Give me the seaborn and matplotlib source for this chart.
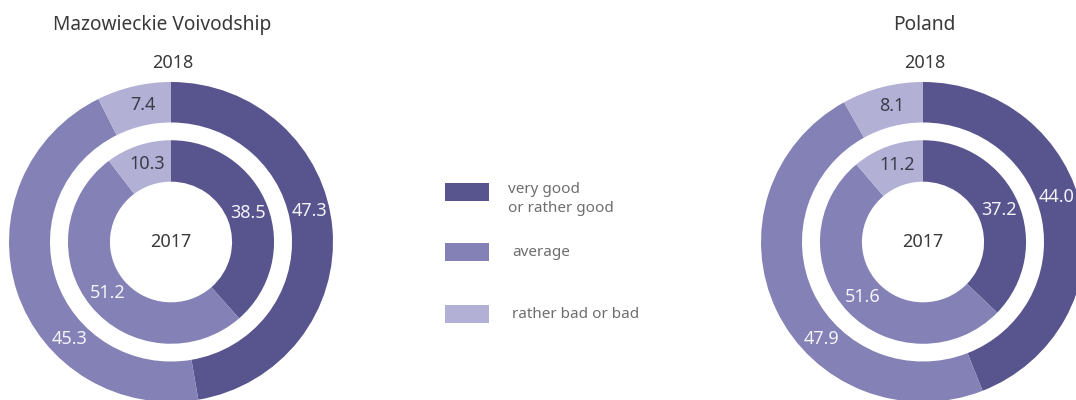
import numpy as np
import matplotlib
matplotlib.use("Agg")
import matplotlib.pyplot as plt
from matplotlib.patches import Rectangle
import seaborn as sns

# ---------------- data ----------------
categories = ["very good\nor rather good", "average", "rather bad or bad"]
regions = ["Mazowieckie Voivodship", "Poland"]
maz_2018 = [47.3, 45.3, 7.4]
maz_2017 = [38.5, 51.2, 10.3]
pol_2018 = [44.0, 47.9, 8.1]
pol_2017 = [37.2, 51.6, 11.2]
outer_year = "2018"
inner_year = "2017"

# ---------------- style ----------------
sns.set_theme(style="white")
plt.rcParams['font.family'] = ['Noto Sans', 'DejaVu Sans']
colors = sns.color_palette(["#57548e", "#8381b5", "#b2b1d5"])
label_colors = ["#f4f4fa", "#f4f4fa", "#3b3b4a"]

W, H = 1076, 400
fig = plt.figure(figsize=(W / 100, H / 100), dpi=100)
fig.patch.set_facecolor("white")

RX, RY = 162.0, 160.0   # pixel size of unit radius
OUT_W = 0.253
IN_R = 0.636
IN_W = 0.259


def px_axes(cx, cy_top, ext=1.25):
    left = (cx - ext * RX) / W
    bottom = (H - cy_top - ext * RY) / H
    ax = fig.add_axes([left, bottom, 2 * ext * RX / W, 2 * ext * RY / H])
    return ax, ext


def donut(cx, cy_top, outer, inner, title, title_dx):
    ax, ext = px_axes(cx, cy_top)
    wo, _ = ax.pie(outer, radius=1.0, colors=colors, startangle=90,
                   counterclock=False,
                   wedgeprops=dict(width=OUT_W, edgecolor="none"))
    wi, _ = ax.pie(inner, radius=IN_R, colors=colors, startangle=90,
                   counterclock=False,
                   wedgeprops=dict(width=IN_W, edgecolor="none"))
    ax.set_aspect("auto")
    ax.set_xlim(-ext, ext)
    ax.set_ylim(-ext, ext)
    ax.axis("off")

    def put(wedges, vals, rmid, ring):
        for i, (w, v) in enumerate(zip(wedges, vals)):
            ang = (w.theta1 + w.theta2) / 2.0
            if ring == "outer" and i == 1:
                ang = max(ang, 224.0)   # keep label inside visible area
            if ring == "outer" and i == 0:
                ang = ang + 8
            if i == 2:
                ang = ang - 2
            a = np.deg2rad(ang)
            ax.text(rmid * np.cos(a), rmid * np.sin(a), f"{v:.1f}",
                    ha="center", va="center", fontsize=13,
                    color=label_colors[i])

    put(wo, outer, 1.0 - OUT_W / 2, "outer")
    put(wi, inner, IN_R - IN_W / 2, "inner")
    ax.text(0, 0, inner_year, ha="center", va="center", fontsize=13,
            color="#3a3a3a")
    fig.text((cx + 2) / W, 1 - 63 / H, outer_year, ha="center", va="center",
             fontsize=13, color="#3a3a3a")
    fig.text((cx + title_dx) / W, 1 - 25 / H, title, ha="center",
             va="center", fontsize=13.8, color="#3a3a3a")


donut(171, 242, maz_2018, maz_2017, regions[0], -9)
donut(923, 242, pol_2018, pol_2017, regions[1], 1)

# ---------------- legend ----------------
lg = fig.add_axes([0, 0, 1, 1])
lg.set_xlim(0, W)
lg.set_ylim(H, 0)
lg.axis("off")
rows_y = [192, 252, 314]
text_y = [199, 252, 315]
text_x = [508, 512, 512]
for c, lab, ry, ty, tx in zip(colors, categories, rows_y, text_y, text_x):
    lg.add_patch(Rectangle((445, ry - 9), 44, 18, facecolor=c,
                           edgecolor="none"))
    lg.text(tx, ty, lab, ha="left", va="center", fontsize=11,
            color="#6e6e6e", linespacing=1.3)

fig.savefig("out.png", dpi=100, facecolor="white")
